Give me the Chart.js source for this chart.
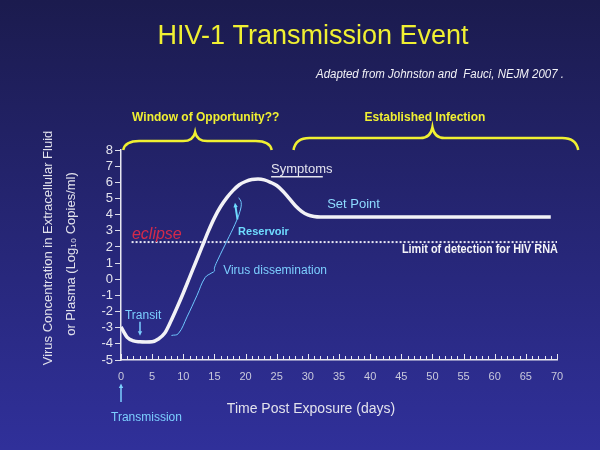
<!DOCTYPE html>
<html>
<head>
<meta charset="utf-8">
<script src="https://cdn.jsdelivr.net/npm/chart.js@4.4.1/dist/chart.umd.min.js"></script>
<style>
  html, body { margin: 0; padding: 0; }
  body { width: 600px; height: 450px; overflow: hidden; background: linear-gradient(#1b1b4e, #30309a); }
  canvas { display: block; }
</style>
</head>
<body>
<canvas id="hiv" width="600" height="450"></canvas>
<script>
// main viral load curve (log10 copies/ml against days post exposure)
const days = [0, 1, 2, 3, 4, 5, 6, 7, 8, 9, 10, 11, 12, 13, 14, 15, 16, 17, 18, 19, 20, 21, 22, 23, 24, 25, 26, 27, 28, 29, 30, 31, 32, 69];
const viralLoad = [-2.95, -3.6, -3.82, -3.87, -3.88, -3.87, -3.7, -3.35, -2.6, -1.75, -0.85, 0.1, 1.05, 2.0, 2.95, 3.8, 4.5, 5.05, 5.5, 5.85, 6.05, 6.17, 6.2, 6.15, 6.0, 5.8, 5.45, 5.0, 4.55, 4.2, 3.98, 3.88, 3.85, 3.85];

// thin "virus dissemination" brace
const disseminationDays = [8.1, 9.2, 10.6, 12.2, 13.5, 14.6, 15.0, 15.0, 15.6, 17.0, 18.3, 19.1, 19.3, 18.9];
const disseminationLoad = [-3.48, -3.37, -2.33, -1.0, 0.1, 0.4, 0.5, 0.7, 1.25, 2.36, 3.4, 4.2, 4.75, 5.05];

// dotted limit of detection
const detectionDays = [1.7, 70];
const detectionLimit = [2.3, 2.3];

const xTickLabels = [0, 5, 10, 15, 20, 25, 30, 35, 40, 45, 50, 55, 60, 65, 70];
const yTickLabels = [-5, -4, -3, -2, -1, 0, 1, 2, 3, 4, 5, 6, 7, 8];

const FONT = "'Liberation Sans', Arial, sans-serif";
const YELLOW = '#f0f032';

const notes = [
  { text: 'Symptoms', day: 24.1, level: 6.77, color: '#e4e4ee', font: '13px ' + FONT, underlineTo: 32.4 },
  { text: 'Set Point', day: 33.1, level: 4.62, color: '#8edcff', font: '13px ' + FONT },
  { text: 'Reservoir', day: 18.8, level: 2.9, color: '#6fdcff', font: 'bold 11px ' + FONT },
  { text: 'Virus dissemination', day: 16.4, level: 0.5, color: '#7ccfff', font: '12px ' + FONT },
  { text: 'Transit', day: 0.64, level: -2.26, color: '#7ccfff', font: '12px ' + FONT },
  { text: 'eclipse', day: 1.76, level: 2.75, color: '#d42a4a', font: 'italic 16px ' + FONT },
  { text: 'Limit of detection for HIV RNA', day: 45.1, level: 1.85, color: '#f4f4f8', font: 'bold 12px ' + FONT, fit: 156 },
  { text: 'Transmission', day: -1.6, level: -8.6, color: '#7ccfff', font: '12px ' + FONT }
];

const braces = [
  { label: 'Window of Opportunity??', from: 0.35, to: 24.2, mid: 11.9, flat: 8.55, tip: 9.1, textDay: 13.6 },
  { label: 'Established Infection', from: 27.7, to: 73.4, mid: 50.0, flat: 8.74, tip: 9.41, textDay: 48.8 }
];

const arrows = [
  { from: [3.05, -2.63], to: [3.05, -3.5], color: '#7ccfff', width: 1.5 },
  { from: [18.7, 3.7], to: [18.3, 4.73], color: '#6fdcff', width: 2 },
  { from: [0, -7.6], to: [0, -6.45], color: '#7ccfff', width: 1.5 }
];

function drawArrow(ctx, x1, y1, x2, y2, color, width) {
  const a = Math.atan2(y2 - y1, x2 - x1);
  const h = 5;
  ctx.strokeStyle = color;
  ctx.fillStyle = color;
  ctx.lineWidth = width;
  ctx.beginPath();
  ctx.moveTo(x1, y1);
  ctx.lineTo(x2 - Math.cos(a) * h * 0.8, y2 - Math.sin(a) * h * 0.8);
  ctx.stroke();
  ctx.beginPath();
  ctx.moveTo(x2, y2);
  ctx.lineTo(x2 - h * Math.cos(a - 0.45), y2 - h * Math.sin(a - 0.45));
  ctx.lineTo(x2 - h * Math.cos(a + 0.45), y2 - h * Math.sin(a + 0.45));
  ctx.closePath();
  ctx.fill();
}

// left-aligned text squeezed to a given width (the slide uses a condensed face)
function fitText(ctx, text, x, y, width) {
  const w = ctx.measureText(text).width;
  const k = Math.min(1, width / w);
  ctx.save();
  ctx.translate(x, y);
  ctx.scale(k, 1);
  ctx.fillText(text, 0, 0);
  ctx.restore();
}

const overlay = {
  id: 'overlay',
  afterDraw(chart) {
    const { ctx, scales: { x, y } } = chart;
    const px = d => x.getPixelForValue(d);
    const py = v => y.getPixelForValue(v);
    const bottom = chart.chartArea.bottom;
    ctx.save();

    // small ticks on the time axis, pointing up
    ctx.strokeStyle = '#e8e8f0';
    ctx.lineWidth = 1;
    for (let d = 0; d <= 70; d++) {
      const xx = Math.round(px(d)) + 0.5;
      ctx.beginPath();
      ctx.moveTo(xx, bottom);
      ctx.lineTo(xx, bottom - (d % 5 === 0 ? 6 : 4));
      ctx.stroke();
    }

    // title and source
    ctx.textBaseline = 'middle';
    ctx.textAlign = 'center';
    ctx.fillStyle = YELLOW;
    ctx.font = '27px ' + FONT;
    ctx.fillText('HIV-1 Transmission Event', 313, 37);
    ctx.textAlign = 'left';
    ctx.fillStyle = '#f2f2f6';
    ctx.font = 'italic 12.5px ' + FONT;
    fitText(ctx, 'Adapted from Johnston and  Fauci, NEJM 2007 .', 316, 75, 248);

    // braces over the phases
    braces.forEach(b => {
      const x1 = px(b.from), x2 = px(b.to), xm = px(b.mid);
      const yb = py(8), yf = py(b.flat), yt = py(b.tip);
      ctx.strokeStyle = YELLOW;
      ctx.lineWidth = 2.5;
      ctx.beginPath();
      ctx.moveTo(x1, yb);
      ctx.quadraticCurveTo(x1 + 2, yf, x1 + 16, yf);
      ctx.lineTo(xm - 12, yf);
      ctx.quadraticCurveTo(xm - 2, yf, xm, yt);
      ctx.quadraticCurveTo(xm + 2, yf, xm + 12, yf);
      ctx.lineTo(x2 - 16, yf);
      ctx.quadraticCurveTo(x2 - 2, yf, x2, yb);
      ctx.stroke();
      ctx.fillStyle = YELLOW;
      ctx.font = 'bold 12px ' + FONT;
      ctx.textAlign = 'center';
      ctx.fillText(b.label, px(b.textDay), py(9.97));
    });

    // text notes
    ctx.textAlign = 'left';
    notes.forEach(n => {
      ctx.font = n.font;
      ctx.fillStyle = n.color;
      if (n.fit) fitText(ctx, n.text, px(n.day), py(n.level), n.fit);
      else ctx.fillText(n.text, px(n.day), py(n.level));
      if (n.underlineTo) {
        ctx.strokeStyle = n.color;
        ctx.lineWidth = 1.5;
        ctx.beginPath();
        ctx.moveTo(px(n.day), py(n.level) + 7);
        ctx.lineTo(px(n.underlineTo), py(n.level) + 7);
        ctx.stroke();
      }
    });

    arrows.forEach(a => drawArrow(ctx, px(a.from[0]), py(a.from[1]), px(a.to[0]), py(a.to[1]), a.color, a.width));

    // y axis title, two rotated lines
    ctx.fillStyle = '#e2e2ec';
    ctx.font = '13px ' + FONT;
    ctx.textAlign = 'center';
    [['Virus Concentration in Extracellular Fluid', 48, 248], ['or Plasma (Log\u2081\u2080 Copies/ml)', 71.5, 254]].forEach(([t, tx, ty]) => {
      ctx.save();
      ctx.translate(tx, ty);
      ctx.rotate(-Math.PI / 2);
      ctx.fillText(t, 0, 0);
      ctx.restore();
    });

    // x axis title
    ctx.font = '14px ' + FONT;
    ctx.fillStyle = '#e2e2ec';
    ctx.fillText('Time Post Exposure (days)', 311, 409);

    ctx.restore();
  }
};

const ctx = document.getElementById('hiv').getContext('2d');
Chart.defaults.font.family = FONT;

new Chart(ctx, {
  type: 'line',
  data: {
    datasets: [
      {
        label: 'Viral load',
        data: days.map((d, i) => ({ x: d, y: viralLoad[i] })),
        borderColor: '#f2f2f6',
        borderWidth: 3.5,
        pointRadius: 0,
        cubicInterpolationMode: 'monotone',
        fill: false
      },
      {
        label: 'Virus dissemination',
        data: disseminationDays.map((d, i) => ({ x: d, y: disseminationLoad[i] })),
        borderColor: '#6fc8ff',
        borderWidth: 1,
        pointRadius: 0,
        tension: 0.4,
        fill: false
      },
      {
        label: 'Limit of detection',
        data: detectionDays.map((d, i) => ({ x: d, y: detectionLimit[i] })),
        borderColor: '#e8e8f2',
        borderWidth: 2,
        borderDash: [2, 2],
        pointRadius: 0,
        fill: false
      }
    ]
  },
  options: {
    responsive: false,
    animation: false,
    layout: { padding: { left: 0, right: 43, top: 150, bottom: 0 } },
    plugins: { legend: { display: false }, tooltip: { enabled: false } },
    scales: {
      x: {
        type: 'linear',
        min: 0,
        max: 70,
        afterFit: s => { s.height = 90; },
        afterBuildTicks: s => { s.ticks = xTickLabels.map(v => ({ value: v })); },
        grid: { display: false },
        border: { color: '#e8e8f0', width: 1.5 },
        ticks: { color: '#c9c9dc', font: { size: 11 }, padding: 2, maxRotation: 0, autoSkip: false }
      },
      y: {
        type: 'linear',
        min: -5,
        max: 8,
        afterFit: s => { s.width = 121; },
        afterBuildTicks: s => { s.ticks = yTickLabels.map(v => ({ value: v })); },
        grid: { drawOnChartArea: false, tickLength: 6, color: '#dcdcea' },
        border: { color: '#e8e8f0', width: 1.5 },
        ticks: { color: '#e4e4ee', font: { size: 13 }, padding: 2, autoSkip: false }
      }
    }
  },
  plugins: [overlay]
});
</script>
</body>
</html>
